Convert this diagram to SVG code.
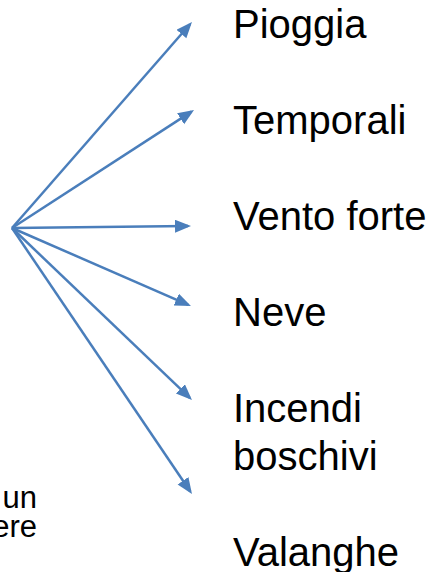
<svg xmlns="http://www.w3.org/2000/svg" width="431" height="572" viewBox="0 0 431 572">
<style>
.lbl{font-family:"Liberation Sans",Arial,sans-serif;font-size:40px;fill:#000}
.sm{font-family:"Liberation Sans",Arial,sans-serif;font-size:31px;fill:#000}
.c{stroke:#4A7EBB;stroke-width:2.5;fill:none;marker-end:url(#ah)}
</style>
<defs>
<marker id="ah" markerUnits="userSpaceOnUse" markerWidth="18" markerHeight="14" refX="13" refY="6.5" orient="auto">
<path d="M0,0 L16,6.5 L0,13 z" fill="#4A7EBB"/>
</marker>
</defs>
<rect width="431" height="572" fill="#fff"/>
<g id="connectors">
<line class="c" x1="12" y1="228" x2="190" y2="24.3"/>
<line class="c" x1="12" y1="228" x2="191.5" y2="111.6"/>
<line class="c" x1="12" y1="228" x2="188" y2="226"/>
<line class="c" x1="12" y1="228" x2="188.2" y2="304.8"/>
<line class="c" x1="12" y1="228" x2="189.8" y2="397.9"/>
<line class="c" x1="12" y1="228" x2="190.3" y2="491.5"/>
</g>
<g id="source-text"><text class="sm" text-anchor="end" x="37" y="508">un</text><text class="sm" text-anchor="end" x="37" y="537">ere</text></g>
<g id="pioggia"><text class="lbl" x="233" y="38">Pioggia</text></g>
<g id="temporali"><text class="lbl" x="233" y="134">Temporali</text></g>
<g id="vento"><text class="lbl" x="233" y="230">Vento forte</text></g>
<g id="neve"><text class="lbl" x="233" y="326">Neve</text></g>
<g id="incendi"><text class="lbl" x="233" y="422">Incendi</text><text class="lbl" x="233" y="470">boschivi</text></g>
<g id="valanghe"><text class="lbl" x="233" y="566">Valanghe</text></g>
</svg>
